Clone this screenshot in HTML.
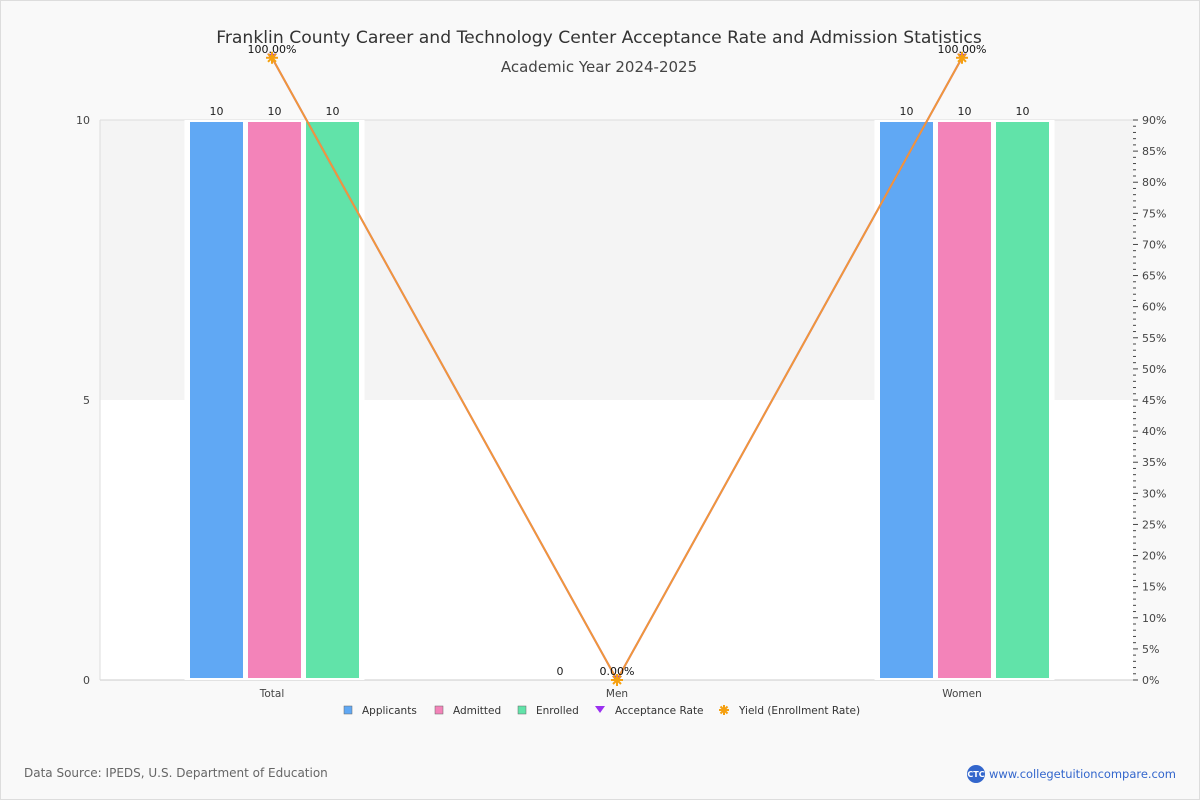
<!DOCTYPE html>
<html><head><meta charset="utf-8"><style>
body{margin:0;background:#fff;}
#wrap{position:relative;width:1200px;height:800px;background:#f9f9f9;font-family:"DejaVu Sans","Liberation Sans",sans-serif;overflow:hidden}
svg text{font-family:"DejaVu Sans","Liberation Sans",sans-serif}
</style></head><body>
<div id="wrap">
<svg id="chart" width="1200" height="800">
<rect x="0.5" y="0.5" width="1199" height="799" fill="none" stroke="#ddd"/>
<text x="599" y="43" text-anchor="middle" font-size="17.2" fill="#333">Franklin County Career and Technology Center Acceptance Rate and Admission Statistics</text>
<text x="599" y="72" text-anchor="middle" font-size="15" fill="#444">Academic Year 2024-2025</text>
<text x="24" y="777" font-size="12" fill="#666">Data Source: IPEDS, U.S. Department of Education</text>
<g><circle cx="976" cy="774" r="9" fill="#3366cc"/><text x="976" y="777" text-anchor="middle" font-size="8" fill="#fff" font-weight="bold">CTC</text>
<text x="989" y="778" font-size="11.5" fill="#3366cc" textLength="187">www.collegetuitioncompare.com</text></g>
</svg></div>
<script>
const categories=["Total","Men","Women"];
const applicants=[10,0,10];
const admitted=[10,0,10];
const enrolled=[10,0,10];
const acceptanceRate=[100,0,100];
const yieldRate=[100,0,100];
const leftTicks=[0,5,10];

const svg=document.getElementById('chart');
const NS='http://www.w3.org/2000/svg';
const X0=100,X1=1133,Y0=680,Y1=120;
function mk(t,a,p){const e=document.createElementNS(NS,t);for(const k in a)e.setAttribute(k,a[k]);(p||svg).appendChild(e);return e;}
const yL=v=>Y0-(v/10)*(Y0-Y1);
const yR=v=>Y0-(v/90)*(Y0-Y1);
const xC=i=>272+i*345;

let b=mk('rect',{x:X0,y:Y1,width:X1-X0,height:yL(5)-Y1,fill:'#f4f4f4'});


b=mk('rect',{x:X0,y:yL(5),width:X1-X0,height:Y0-yL(5),fill:'#fff'});


mk('line',{x1:X0,y1:Y1,x2:X1,y2:Y1,stroke:'#ddd'});
mk('line',{x1:X0,y1:Y0,x2:X1,y2:Y0,stroke:'#ccc'});
mk('line',{x1:X0,y1:Y1,x2:X0,y2:Y0,stroke:'#ddd'});

leftTicks.forEach(v=>{const t=mk('text',{x:X0-10,y:yL(v)+4,'text-anchor':'end','font-size':11,fill:'#444'});t.textContent=v;

});
for(let p=0;p<=90;p++){const maj=p%5==0;mk('line',{x1:X1,y1:yR(p),x2:X1+(maj?5:3),y2:yR(p),stroke:'#444'});
if(maj){const t=mk('text',{x:X1+9,y:yR(p)+4,'font-size':11,fill:'#444'});t.textContent=p+'%';

}}

const series=[[applicants,'#60a8f4','Applicants'],[admitted,'#f383b9','Admitted'],[enrolled,'#61e3a9','Enrolled']];
const bw=53,gap=5;
categories.forEach((c,i)=>{
 const cx=xC(i);const bc=cx+2.5;
 if(applicants[i]>0){const w=mk('rect',{x:bc-90,y:Y1,width:180,height:Y0-Y1,fill:'#fff'});}
 series.forEach((s,k)=>{
  const v=s[0][i];const x=bc-bw*1.5-gap+k*(bw+gap);
  if(v>0){const r=mk('rect',{x:x,y:yL(v)+2,width:bw,height:Y0-yL(v)-4,fill:s[1]});
  
  }
  if(v>0||k==0){const t=mk('text',{x:v>0?x+bw/2:cx-57,y:v>0?yL(v)-5:Y0-5,'text-anchor':'middle','font-size':11,fill:'#222'});t.textContent=v;
  
  }
 });
 const t=mk('text',{x:cx,y:Y0+17,'text-anchor':'middle','font-size':10.5,fill:'#444'});t.textContent=c;
 
 
});
function line(arr,col,name,w){const pts=arr.map((v,i)=>xC(i)+','+yR(v)).join(' ');
 const l=mk('polyline',{points:pts,fill:'none',stroke:col,'stroke-width':w});
 
 }
line(acceptanceRate,'#9b30f0','acceptance-rate-line',2);
line(yieldRate,'#f0983a','yield-line',2);
acceptanceRate.forEach((v,i)=>{const x=xC(i),y=yR(v);
 const m=mk('path',{d:`M${x-5},${y-4}L${x+5},${y-4}L${x},${y+3}Z`,fill:'#9b30f0'});
 
 });
yieldRate.forEach((v,i)=>{const x=xC(i),y=yR(v);
 const g=mk('g',{stroke:'#f5a010','stroke-width':2});
 
 
 [[0,6],[6,0],[4,4],[4,-4]].forEach(d=>mk('line',{x1:x-d[0],y1:y-d[1],x2:x+d[0],y2:y+d[1]},g));
 const t=mk('text',{x:x,y:y-5,'text-anchor':'middle','font-size':11,fill:'#111'});t.textContent=v.toFixed(2)+'%';
 
 });
const leg=[['Applicants','#60a8f4',344,'sq'],['Admitted','#f383b9',435,'sq'],['Enrolled','#61e3a9',518,'sq'],['Acceptance Rate','#9b30f0',595,'tri'],['Yield (Enrollment Rate)','#f5a010',719,'star']];
leg.forEach(l=>{const g=mk('g',{});
 
 
 const y=710;
 if(l[3]=='sq')mk('rect',{x:l[2],y:y-4,width:8,height:8,fill:l[1],stroke:'#666','stroke-width':0.5},g);
 else if(l[3]=='tri')mk('path',{d:`M${l[2]},${y-4}L${l[2]+10},${y-4}L${l[2]+5},${y+3}Z`,fill:l[1]},g);
 else{const gg=mk('g',{stroke:l[1],'stroke-width':2},g);[[0,5],[5,0],[3.5,3.5],[3.5,-3.5]].forEach(d=>mk('line',{x1:l[2]+5-d[0],y1:y-d[1],x2:l[2]+5+d[0],y2:y+d[1]},gg));}
 const t=mk('text',{x:l[2]+(l[3]=='sq'?18:20),y:y+4,'font-size':10.5,fill:'#333'},g);t.textContent=l[0];});
</script></body></html>
